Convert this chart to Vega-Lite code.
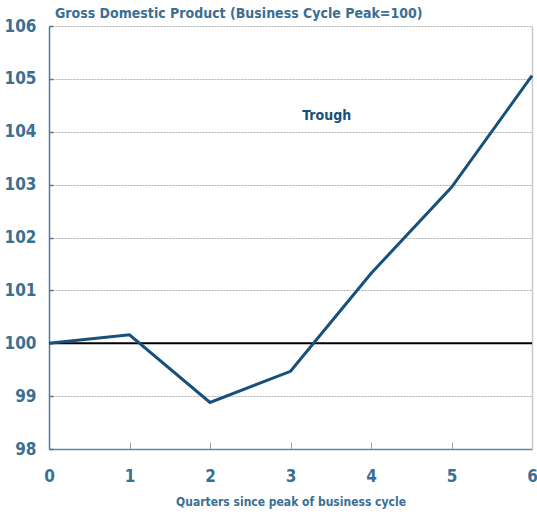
{
  "$schema": "https://vega.github.io/schema/vega-lite/v6.json",
  "width": 483,
  "height": 423,
  "autosize": "none",
  "padding": {"left": 49, "top": 26, "right": 5, "bottom": 67},
  "background": "white",
  "config": {
    "view": {"stroke": null},
    "font": "DejaVu Sans Condensed",
    "axis": {"labelFont": "DejaVu Sans Condensed", "titleFont": "DejaVu Sans Condensed"}
  },
  "title": {
    "text": "Gross Domestic Product (Business Cycle Peak=100)",
    "anchor": "start",
    "frame": "group",
    "dx": 6,
    "offset": -4,
    "fontSize": 14,
    "fontWeight": "bold",
    "color": "#3a6f93",
    "font": "DejaVu Sans Condensed"
  },
  "datasets": {
    "gdp": [
      {"quarter": 0, "value": 100.0},
      {"quarter": 1, "value": 100.16},
      {"quarter": 2, "value": 98.88},
      {"quarter": 3, "value": 99.47},
      {"quarter": 4, "value": 101.32},
      {"quarter": 5, "value": 102.95},
      {"quarter": 6, "value": 105.06}
    ],
    "base": [{"value": 100}],
    "notes": [{"quarter": 3.45, "value": 104.3, "label": "Trough"}]
  },
  "resolve": {"axis": {"y": "independent"}},
  "layer": [
    {
      "data": {"name": "base"},
      "mark": {"type": "rule", "color": "#000000", "strokeWidth": 2},
      "encoding": {
        "y": {"field": "value", "type": "quantitative", "scale": {"domain": [98, 106], "nice": false, "zero": false},
          "axis": {"orient": "right", "title": null, "labels": false, "ticks": false, "grid": false, "domainColor": "#c8c8c8", "domainWidth": 1.5}}
      }
    },
    {
      "data": {"name": "gdp"},
      "mark": {"type": "line", "color": "#17507a", "strokeWidth": 3},
      "encoding": {
        "x": {
          "field": "quarter", "type": "quantitative",
          "scale": {"domain": [0, 6], "nice": false, "zero": false},
          "axis": {
            "title": "Quarters since peak of business cycle",
            "values": [0, 1, 2, 3, 4, 5, 6],
            "format": "d",
            "grid": false,
            "domainColor": "#5b86a8",
            "domainWidth": 1.5,
            "tickColor": "#8aa8c0",
            "tickSize": -7,
            "tickWidth": 1,
            "labelFontSize": 17,
            "labelFontWeight": "bold",
            "labelColor": "#3a6f93",
            "labelPadding": 26,
            "labelFlush": false,
            "titleFontSize": 12,
            "titleFontWeight": "bold",
            "titleColor": "#3a6f93",
            "titlePadding": 12
          }
        },
        "y": {
          "field": "value", "type": "quantitative",
          "scale": {"domain": [98, 106], "nice": false, "zero": false},
          "axis": {
            "orient": "left",
            "title": null,
            "values": [98, 99, 100, 101, 102, 103, 104, 105, 106],
            "format": "d",
            "grid": true,
            "gridColor": "#b0b0b0",
            "gridDash": [2, 1],
            "gridWidth": 1,
            "domainColor": "#4f7a9c",
            "domainWidth": 1.5,
            "tickColor": "#4f7a9c",
            "tickSize": -4,
            "tickWidth": 1.5,
            "labelFontSize": 17,
            "labelFontWeight": "bold",
            "labelColor": "#3a6f93",
            "labelPadding": 17
          }
        }
      }
    },
    {
      "data": {"name": "notes"},
      "mark": {"type": "text", "color": "#17507a", "fontSize": 14, "fontWeight": "bold", "font": "DejaVu Sans Condensed"},
      "encoding": {
        "x": {"field": "quarter", "type": "quantitative"},
        "y": {"field": "value", "type": "quantitative", "axis": null},
        "text": {"field": "label"}
      }
    }
  ]
}
